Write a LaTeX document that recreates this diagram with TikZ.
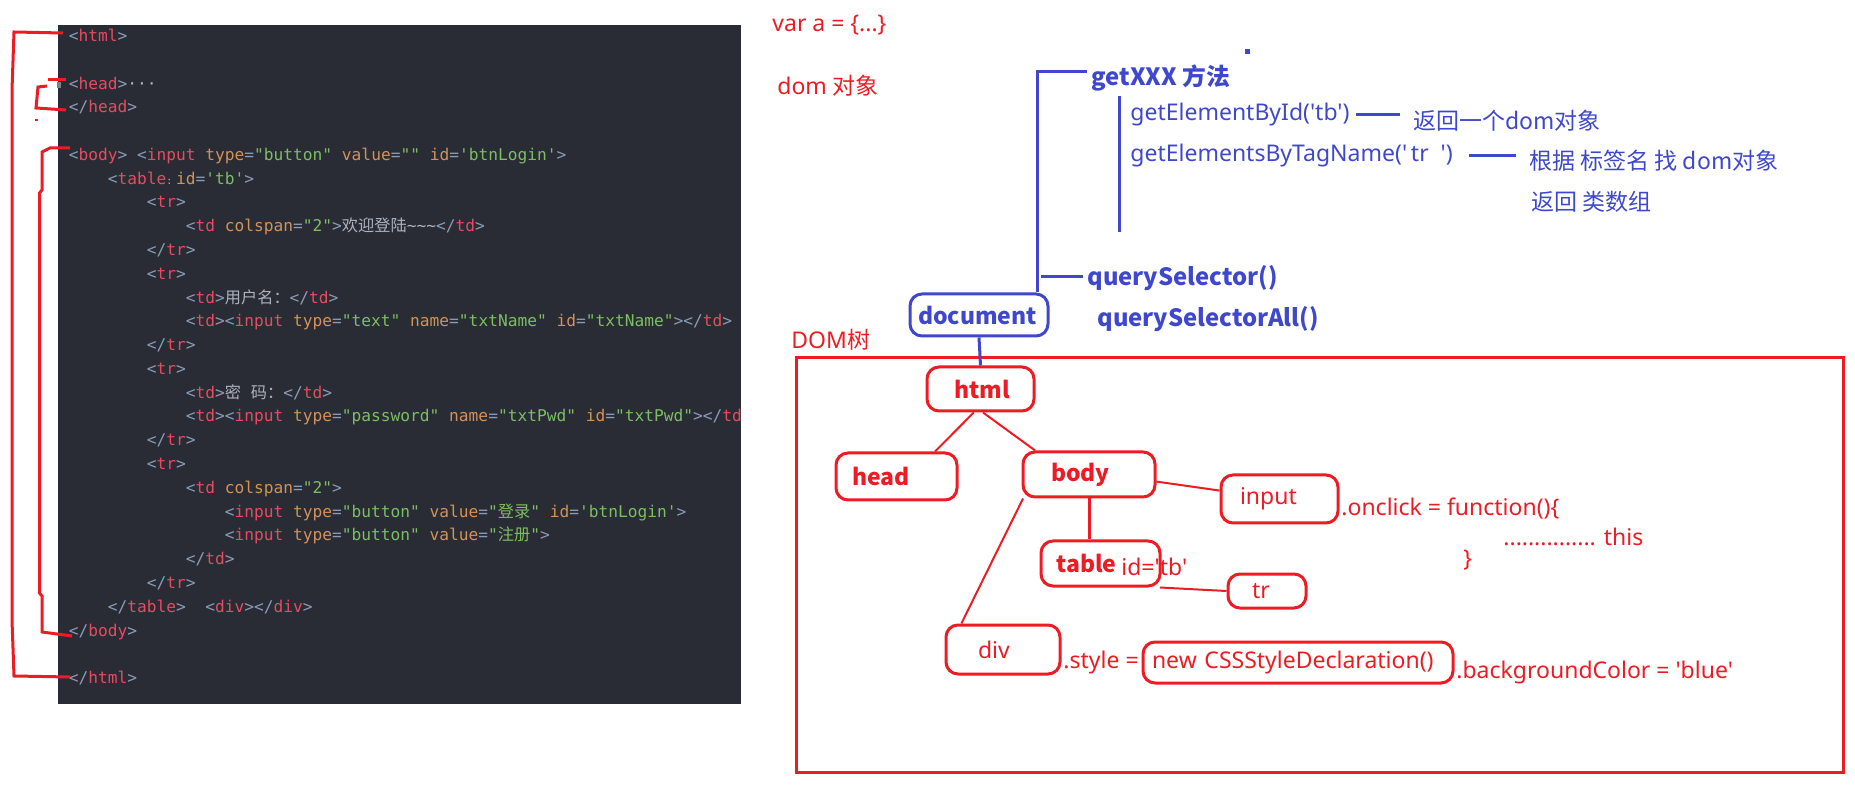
\documentclass[tikz,border=0pt]{standalone}
\usepackage{fontspec}
\usepackage{xcolor}
\usepackage{tikz}
\setmainfont{Noto Sans}[Ligatures=TeXOff]
\newfontfamily\codefont{DejaVu Sans Mono}[Ligatures=TeXOff]
\newfontfamily\zhfont{Noto Sans CJK SC}[Ligatures=TeXOff]
\definecolor{codebg}{RGB}{41,44,53}
\definecolor{codetag}{RGB}{230,76,96}
\definecolor{codepunct}{RGB}{138,155,181}
\definecolor{codeattr}{RGB}{210,146,88}
\definecolor{codestr}{RGB}{124,190,98}
\definecolor{codetext}{RGB}{172,178,190}
\definecolor{domred}{RGB}{237,28,36}
\definecolor{domblue}{RGB}{63,72,204}
\newcommand{\zh}[1]{{\zhfont #1}}
\newcommand{\otag}[1]{\textcolor{codepunct}{<}\textcolor{codetag}{#1}}
\newcommand{\etag}{\textcolor{codepunct}{>}}
\newcommand{\ctag}[1]{\textcolor{codepunct}{</}\textcolor{codetag}{#1}\textcolor{codepunct}{>}}
\newcommand{\attr}[2]{\space\textcolor{codeattr}{#1}\textcolor{codepunct}{=}\textcolor{codestr}{#2}}
\newcommand{\ctxt}[1]{\textcolor{codetext}{#1}}

\begin{document}
\begin{tikzpicture}[x=0.5pt,y=-0.5pt,
    codeline/.style={anchor=base west, inner sep=0pt, font=\codefont\fontsize{8.1pt}{10pt}\selectfont},
    redtext/.style={anchor=west, inner sep=0pt, text=domred, font=\fontsize{11.5pt}{14pt}\selectfont},
    bluetext/.style={anchor=west, inner sep=0pt, text=domblue, font=\fontsize{11.5pt}{14pt}\selectfont},
    bluebold/.style={bluetext, font=\zhfont\fontsize{11.9pt}{14pt}\selectfont\bfseries},
    treebox/.style={draw=domred, line width=1.5pt, rounded corners=6pt, inner sep=0pt, text=domred, align=left, font=\fontsize{11.5pt}{14pt}\selectfont},
    treebold/.style={treebox, font=\zhfont\fontsize{11.5pt}{14pt}\selectfont\bfseries},
    docbox/.style={draw=domblue, line width=1.5pt, rounded corners=6pt, inner sep=0pt, text=domblue, align=left, font=\zhfont\fontsize{11.5pt}{14pt}\selectfont\bfseries},
    treeedge/.style={domred, line width=1pt},
    blueline/.style={domblue, line width=1.5pt},
    redmark/.style={domred, line width=1.5pt}]
    \useasboundingbox (0,0) rectangle (1855,795);
    % code panel
    \fill[codebg] (58,25) rectangle (741,704);
    \fill[gray] (57,82) rectangle (61,88);
    \begin{scope}
        \clip (58,25) rectangle (741,704);
        \foreach \lvl/\txt [count=\n from 0] in {
            0/{\otag{html}\etag},
            0/{},
            0/{\otag{head}\etag\ctxt{···}},
            0/{\ctag{head}},
            0/{},
            0/{\otag{body}\etag\space\otag{input}\attr{type}{"button"}\attr{value}{""}\attr{id}{'btnLogin'}\etag},
            1/{\otag{table}\rlap{\ctxt{\tiny :}}\attr{id}{'tb'}\etag},
            2/{\otag{tr}\etag},
            3/{\otag{td}\attr{colspan}{"2"}\etag\ctxt{\zh{欢迎登陆}\string~\string~\string~}\ctag{td}},
            2/{\ctag{tr}},
            2/{\otag{tr}\etag},
            3/{\otag{td}\etag\ctxt{\zh{用户名：}}\ctag{td}},
            3/{\otag{td}\etag\otag{input}\attr{type}{"text"}\attr{name}{"txtName"}\attr{id}{"txtName"}\etag\ctag{td}},
            2/{\ctag{tr}},
            2/{\otag{tr}\etag},
            3/{\otag{td}\etag\ctxt{\zh{密}\ \zh{码：}}\ctag{td}},
            3/{\otag{td}\etag\otag{input}\attr{type}{"password"}\attr{name}{"txtPwd"}\attr{id}{"txtPwd"}\etag\ctag{td}},
            2/{\ctag{tr}},
            2/{\otag{tr}\etag},
            3/{\otag{td}\attr{colspan}{"2"}\etag},
            4/{\otag{input}\attr{type}{"button"}\attr{value}{"\zh{登录}"}\attr{id}{'btnLogin'}\etag},
            4/{\otag{input}\attr{type}{"button"}\attr{value}{"\zh{注册}"}\etag},
            3/{\ctag{td}},
            2/{\ctag{tr}},
            1/{\ctag{table}\space\space\otag{div}\etag\ctag{div}},
            0/{\ctag{body}},
            0/{},
            0/{\ctag{html}}} {
            \node[codeline] (line\n) at ({68.5+39*\lvl},{41.5+23.78*\n}) {\txt};
        }
    \end{scope}
    % hand drawn brackets
    \draw[redmark] (63,33) -- (14,32) -- (12,90) -- (12,620) -- (14,676) -- (70,677);
    \draw[redmark] (66,80) -- (48,80);
    \draw[redmark] (47,86) -- (38,87) -- (36,108) -- (66,110);
    \draw[domred, line width=0.6pt] (35,120) -- (38,120);
    \draw[redmark] (70,148) -- (50,148) -- (42,152) -- (42,190) -- (39.5,193) -- (39.5,593) -- (42,596) -- (42,632) -- (72,636);
    % notes
    \node[redtext] (vara) at (772,25) {var a = \{...\}};
    \node[redtext] (domobj) at (777,86) {dom \zh{对象}};
    \fill[domblue] (1245,49) rectangle (1250,54);
    % document and its methods
    \node[docbox, minimum width=69pt, minimum height=21pt, text width=61pt] (document) at (979,315) {document};
    \node[bluebold] (getxxx) at (1091,78) {getXXX 方法};
    \node[bluetext] (byid) at (1130,115) {getElementById('tb')};
    \node[bluetext] (bytag) at (1130,156) {getElementsByTagName('\,tr\ \ ')};
    \node[bluetext] (ret1) at (1413,121) {\zh{返回一个dom对象}};
    \node[bluetext] (ret2) at (1529,161) {\zh{根据 标签名 找 dom对象}};
    \node[bluetext] (ret3) at (1531,202) {\zh{返回 类数组}};
    \node[bluebold] (qs) at (1087,278) {querySelector()};
    \node[bluebold] (qsa) at (1097,319) {querySelectorAll()};
    \coordinate (qsfoot) at (1041,277);
    \draw[blueline, shorten >=2pt] (document.21) |- ([yshift=3pt]getxxx.west);
    \draw[blueline] (1119,96) -- (1119,232);
    \draw[blueline, shorten <=3pt, shorten >=6.5pt] (byid.east) -- (byid.east -| ret1.west);
    \draw[blueline, shorten <=8pt, shorten >=6.5pt] (bytag.east) -- (bytag.east -| ret2.west);
    \draw[blueline, shorten >=2pt] (qsfoot) -- (qsfoot -| qs.west);
    % DOM tree
    \node[redtext] (domtree) at (791,340) {DOM\zh{树}};
    \draw[redmark] (796,358) rectangle (1843,772);
    \node[treebold, minimum width=53.5pt, minimum height=22pt, text width=26.5pt] (html) at (980.5,389) {html};
    \node[treebold, minimum width=60.5pt, minimum height=23.5pt, text width=44.5pt] (head) at (896.5,476.5) {head};
    \node[treebold, minimum width=66pt, minimum height=22.5pt, text width=38pt] (body) at (1089,474.5) {body};
    \node[treebox, minimum width=58.5pt, minimum height=24pt, text width=39.5pt] (input) at (1279.5,499) {input};
    \node[treebold, minimum width=59.5pt, minimum height=22.5pt, text width=44pt] (table) at (1100.5,563.5) {table};
    \node[treebox, minimum width=39pt, minimum height=17pt, text width=15pt] (tr) at (1267,591) {tr};
    \node[treebox, minimum width=57pt, minimum height=24.5pt, text width=25pt] (div) at (1003,649.5) {div};
    \node[treebox, minimum width=155pt, minimum height=20.5pt, text width=146pt] (cssdecl) at (1298,662.5) {new CSSStyleDeclaration()};
    \draw[blueline] (document.south) -- (html.north);
    \draw[treeedge] (html.254) -- (head.33);
    \draw[treeedge] (html.276) -- (body.156);
    \draw[treeedge] (body.-6) -- (input.172);
    \draw[treeedge, line width=1.5pt] (body.south) -- (body.south |- table.north);
    \draw[treeedge] (body.200) -- (div.148);
    \draw[treeedge] (table.338) -- (tr.west);
    % properties
    \node[redtext] (idtb) at (1121,567) {id='tb'};
    \node[redtext] (onclick) at (1341,509) {.onclick = function()\{};
    \node[redtext] (thisdots) at (1503,537) {............... this};
    \node[redtext] (closebrace) at (1463,560) {\}};
    \node[redtext] (styleeq) at (1063,663) {.style =};
    \node[redtext] (bgcolor) at (1456,673) {.backgroundColor = 'blue'};
\end{tikzpicture}
\end{document}
